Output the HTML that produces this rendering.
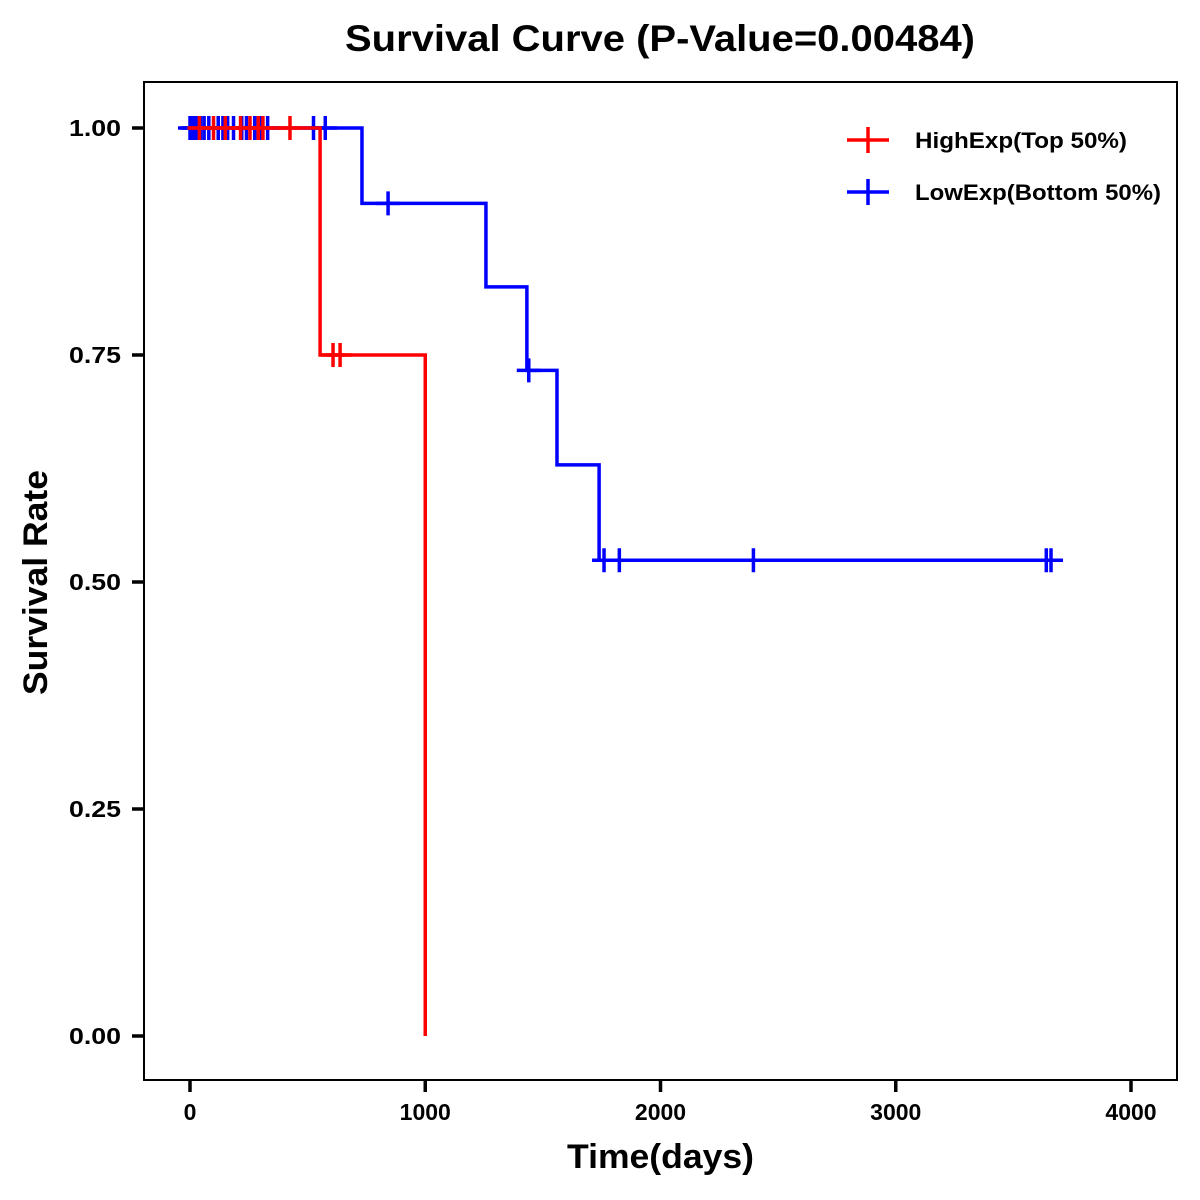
<!DOCTYPE html>
<html><head><meta charset="utf-8"><style>
body{margin:0;background:#fff}
svg{display:block;font-family:"Liberation Sans",Arial,sans-serif}
</style></head><body>
<svg id="c" width="1200" height="1200" viewBox="0 0 1200 1200">
<text x="345" y="51" textLength="630" lengthAdjust="spacingAndGlyphs" font-size="37" font-weight="bold">Survival Curve (P-Value=0.00484)</text>
<rect x="144" y="82" width="1033" height="998" fill="none" stroke="#000" stroke-width="2"/>
<g id="axes"></g>
<g id="series"></g>
<text x="567" y="1168" textLength="187" lengthAdjust="spacingAndGlyphs" font-size="34" font-weight="bold">Time(days)</text>
<text transform="translate(47,695) rotate(-90)" textLength="225" lengthAdjust="spacingAndGlyphs" font-size="34" font-weight="bold">Survival Rate</text>
<g>
<g>
<line x1="847" y1="140" x2="889" y2="140" stroke="#f00" stroke-width="3.5"/><line x1="868" y1="127" x2="868" y2="153" stroke="#f00" stroke-width="3.5"/>
<text x="915" y="148" textLength="212" lengthAdjust="spacingAndGlyphs" font-size="22" font-weight="bold">HighExp(Top 50%)</text></g>
<g>
<line x1="847" y1="192" x2="889" y2="192" stroke="#00f" stroke-width="3.5"/><line x1="868" y1="179" x2="868" y2="205" stroke="#00f" stroke-width="3.5"/>
<text x="915" y="200" textLength="246" lengthAdjust="spacingAndGlyphs" font-size="22" font-weight="bold">LowExp(Bottom 50%)</text></g>
</g>
</svg>
<script>
const xTicks=[0,1000,2000,3000,4000];
const yTicks=[0,0.25,0.5,0.75,1.0];
const yTickLabels=["0.00","0.25","0.50","0.75","1.00"];
const highTimes=[0,553,1000];
const highSurv=[1.0,0.75,0.0];
const highEnd=1000;
const highCensor=[40,100,150,215,255,290,310,425,608,638];
const highCensorSurv=[1,1,1,1,1,1,1,1,0.75,0.75];
const lowTimes=[0,731,1258,1432,1560,1739];
const lowSurv=[1.0,0.917,0.825,0.733,0.629,0.524];
const lowEnd=3707;
const lowCensor=[0,10,20,30,45,60,80,120,140,160,185,220,240,275,300,330,525,575,842,1440,1760,1825,2395,3640,3660];
const lowCensorSurv=[1,1,1,1,1,1,1,1,1,1,1,1,1,1,1,1,1,1,0.917,0.733,0.524,0.524,0.524,0.524,0.524];
const X=t=>190+t*0.23525, Y=s=>1036-s*908;
const NS="http://www.w3.org/2000/svg";
function mk(tag,attrs,parent){const e=document.createElementNS(NS,tag);for(const k in attrs)e.setAttribute(k,attrs[k]);parent.appendChild(e);return e;}
const ax=document.getElementById('axes');
xTicks.forEach(t=>{
 const l=mk('line',{x1:X(t),x2:X(t),y1:1080,y2:1092,stroke:'#000','stroke-width':3.5},ax);
 
 
 const s=String(t);
 const tx=mk('text',{x:X(t)-s.length*6.4,y:1120,textLength:s.length*12.8,lengthAdjust:'spacingAndGlyphs','font-size':23,'font-weight':'bold'},ax);tx.textContent=s;
 
 
});
yTicks.forEach((v,i)=>{
 const l=mk('line',{x1:132,x2:144,y1:Y(v),y2:Y(v),stroke:'#000','stroke-width':3.5},ax);
 
 
 const tx=mk('text',{x:69,y:Y(v)+8,textLength:52,lengthAdjust:'spacingAndGlyphs','font-size':23,'font-weight':'bold'},ax);tx.textContent=yTickLabels[i];
 
 
});
const sg=document.getElementById('series');
function draw(times,surv,end,cens,censS,color,name){
 let d='M'+X(times[0])+','+Y(surv[0]);
 for(let i=1;i<times.length;i++){d+=' H'+X(times[i])+' V'+Y(surv[i]);}
 d+=' H'+X(end);
 const p=mk('path',{d:d,fill:'none',stroke:color,'stroke-width':3.5},sg);
 
 
 cens.forEach((t,i)=>{
  const g=mk('path',{d:'M'+(X(t)-12)+','+Y(censS[i])+' h24 M'+X(t)+','+(Y(censS[i])-12)+' v24',stroke:color,'stroke-width':3.5,fill:'none'},sg);
  
  
 });
}
draw(lowTimes,lowSurv,lowEnd,lowCensor,lowCensorSurv,'#00f','low-exp');
draw(highTimes,highSurv,highEnd,highCensor,highCensorSurv,'#f00','high-exp');
</script>
</body></html>
